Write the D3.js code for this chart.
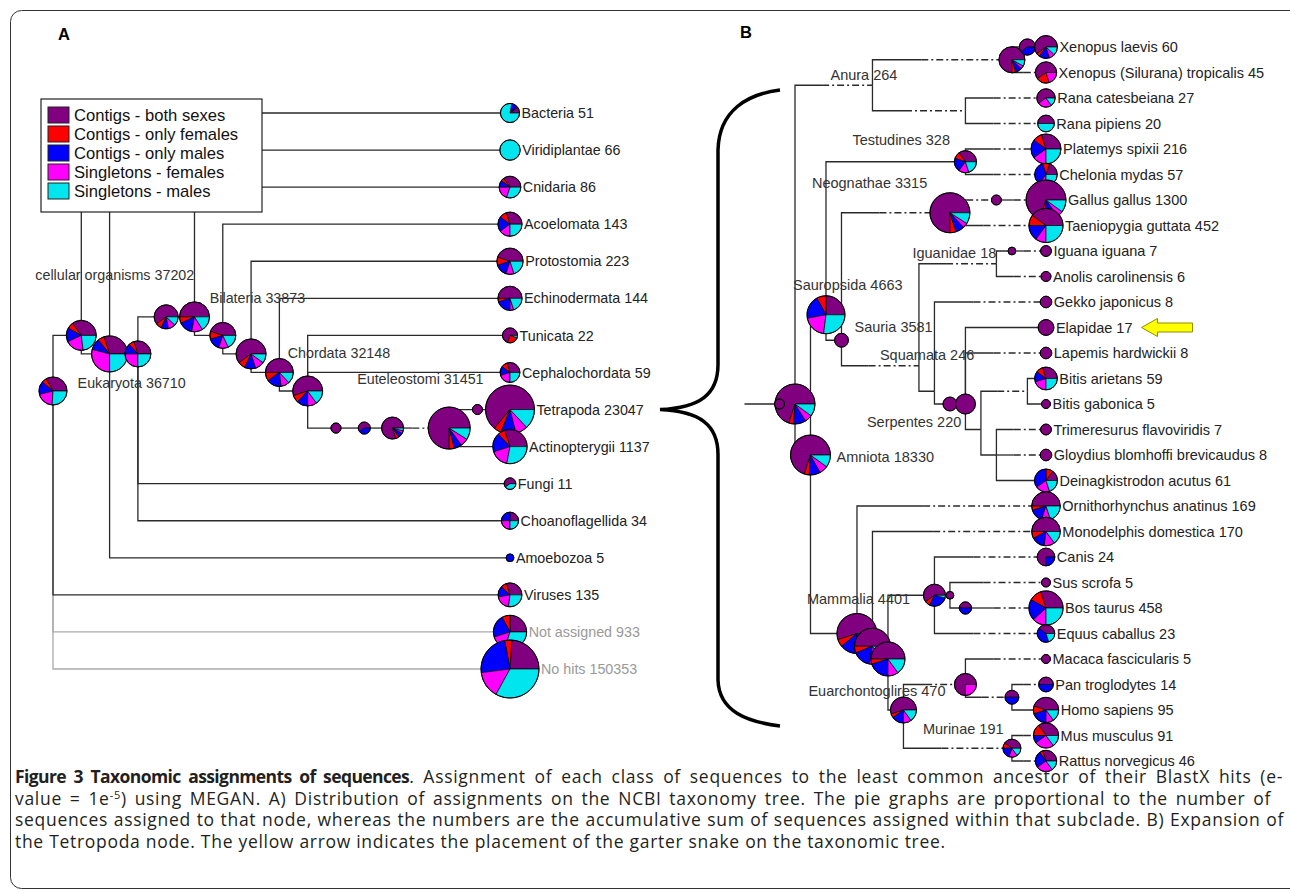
<!DOCTYPE html>
<html>
<head>
<meta charset="utf-8">
<script src="https://cdn.jsdelivr.net/npm/d3@7"></script>
<style>
  body { margin: 0; background: #fff; }
  svg text { font-family: "Liberation Sans", Arial, sans-serif; }
  .caption text { font-family: "Open Sans", sans-serif; }
</style>
</head>
<body>
<svg id="fig" width="1290" height="893"></svg>
<script>
// read classes (legend order = slice order)
const classNames = ["Contigs - both sexes", "Contigs - only females", "Contigs - only males", "Singletons - females", "Singletons - males"];
const classColors = ["#800080", "#ff0000", "#0000ff", "#ff00ff", "#00e5ee"];

// rows: [taxon, parent, rank column (null = leaf), count shown, reads in pie (null = count), class mix, hidden ranks on edge]
const taxaA = [
  ["root", null, 0, null, 315, [.33, .06, .15, .2, .26], 0],
  ["cellular organisms", "root", 1, 37202, 475, [.35, .07, .15, .2, .23], 0],
  ["Bacteria", "cellular organisms", null, 51, null, [.1, .02, .1, 0, .78], 0],
  ["Eukaryota", "cellular organisms", 2, 36710, 1640, [.3, .06, .1, .29, .25], 0],
  ["Viridiplantae", "Eukaryota", null, 66, null, [0, 0, 0, 0, 1], 0],
  ["Opisthokonta", "Eukaryota", 3, null, 210, [.3, .07, .13, .25, .25], 0],
  ["Metazoa", "Opisthokonta", 4, null, 140, [.6, .08, .1, .1, .12], 0],
  ["Eumetazoa", "Metazoa", 5, null, 475, [.5, .07, .15, .12, .16], 0],
  ["Cnidaria", "Eumetazoa", null, 86, null, [.35, .05, .1, .2, .3], 0],
  ["Bilateria", "Eumetazoa", 6, 33873, 210, [.45, .1, .15, .12, .18], 0],
  ["Acoelomata", "Bilateria", null, 143, null, [.3, .1, .2, .15, .25], 0],
  ["Coelomata", "Bilateria", 7, null, 475, [.6, .08, .12, .1, .1], 0],
  ["Protostomia", "Coelomata", null, 223, null, [.45, .1, .15, .1, .2], 0],
  ["Deuterostomia", "Coelomata", 8, null, 315, [.5, .1, .17, .1, .13], 0],
  ["Echinodermata", "Deuterostomia", null, 144, null, [.5, .05, .2, .05, .2], 0],
  ["Chordata", "Deuterostomia", 9, 32148, 475, [.55, .08, .12, .1, .15], 0],
  ["Tunicata", "Chordata", null, 22, null, [.7, .25, 0, 0, .05], 0],
  ["Cephalochordata", "Chordata", null, 59, null, [.3, .1, .15, .2, .25], 0],
  ["Craniata", "Chordata", 10, null, 8, [1, 0, 0, 0, 0], 0],
  ["Vertebrata", "Craniata", 11, null, 12, [.6, 0, .4, 0, 0], 0],
  ["Gnathostomata", "Vertebrata", 12, null, 92, [.8, .05, .07, .04, .04], 0],
  ["Euteleostomi", "Gnathostomata", 14, 31451, 5600, [.75, .04, .06, .06, .09], 1],
  ["Sarcopterygii", "Euteleostomi", 15, null, 8, [1, 0, 0, 0, 0], 0],
  ["Tetrapoda", "Sarcopterygii", null, 23047, null, [.64, .05, .1, .08, .13], 0],
  ["Actinopterygii", "Euteleostomi", null, 1137, null, [.3, .07, .18, .17, .28], 0],
  ["Fungi", "Opisthokonta", null, 11, null, [.6, 0, 0, 0, .4], 0],
  ["Choanoflagellida", "Opisthokonta", null, 34, null, [.25, 0, .25, .25, .25], 0],
  ["Amoebozoa", "Eukaryota", null, 5, null, [0, 0, 1, 0, 0], 0],
  ["Viruses", "root", null, 135, null, [.3, .08, .15, .2, .27], 0],
  ["Not assigned", "root", null, 933, null, [.25, .08, .22, .15, .3], 0],
  ["No hits", "root", null, 150353, null, [.24, .04, .24, .15, .33], 0]
];
const greyTaxa = ["Not assigned", "No hits"];

const purple = [1, 0, 0, 0, 0];
const taxaB = [
  ["Sarcopterygii", null, -1, null, 6, purple, 0],
  ["Tetrapoda", "Sarcopterygii", 0, null, 3800, [.7, .04, .1, .06, .1], 0],
  ["Anura", "Tetrapoda", 5, 264, 0, null, 1],
  ["Xenopus", "Anura", 14, null, 106, [.75, .05, .08, .04, .08], 1],
  ["Xenopus (Xenopus)", "Xenopus", 15, null, 18, [.6, 0, .4, 0, 0], 0],
  ["Xenopus laevis", "Xenopus (Xenopus)", null, 60, null, [.6, .05, .15, .08, .12], 0],
  ["Xenopus (Silurana) tropicalis", "Xenopus", null, 45, null, [.6, .2, 0, .2, 0], 1],
  ["Rana", "Anura", 11, null, 0, null, 1],
  ["Rana catesbeiana", "Rana", null, 27, null, [.6, 0, 0, .25, .15], 1],
  ["Rana pipiens", "Rana", null, 20, null, [.5, 0, 0, 0, .5], 1],
  ["Amniota", "Tetrapoda", 1, 18330, 11200, [.7, .04, .09, .07, .1], 0],
  ["Sauropsida", "Amniota", 2, 4663, 907, [.25, .08, .2, .2, .27], 0],
  ["Testudines", "Sauropsida", 11, 328, 52, [.35, .1, .2, .15, .2], 0],
  ["Platemys spixii", "Testudines", null, 216, null, [.3, .1, .2, .15, .25], 1],
  ["Chelonia mydas", "Testudines", null, 57, null, [.2, .1, .35, .1, .25], 1],
  ["Sauria", "Sauropsida", 3, 3581, 12, purple, 0],
  ["Neognathae", "Sauria", 10, 3315, 1563, [.75, .05, .07, .04, .09], 1],
  ["Galliformes", "Neognathae", 13, null, 6, purple, 1],
  ["Gallus gallus", "Galliformes", null, 1300, null, [.7, .05, .1, .05, .1], 1],
  ["Taeniopygia guttata", "Neognathae", null, 452, null, [.4, .1, .15, .1, .25], 1],
  ["Squamata", "Sauria", 8, 246, 0, null, 1],
  ["Iguanidae", "Squamata", 13, 18, 0, null, 1],
  ["Iguana", "Iguanidae", 14, null, 4, purple, 0],
  ["Iguana iguana", "Iguana", null, 7, null, purple, 1],
  ["Anolis carolinensis", "Iguanidae", null, 6, null, purple, 1],
  ["Scleroglossa", "Squamata", 9, null, 0, null, 0],
  ["Gekko japonicus", "Scleroglossa", null, 8, null, purple, 1],
  ["Serpentes", "Scleroglossa", 10, 220, 12, purple, 0],
  ["Colubroidea", "Serpentes", 11, null, 36, purple, 0],
  ["Elapidae", "Colubroidea", null, 17, null, purple, 0],
  ["Lapemis hardwickii", "Colubroidea", null, 8, null, purple, 1],
  ["Viperidae", "Colubroidea", 12, null, 0, null, 0],
  ["Bitis", "Viperidae", 15, null, 0, null, 1],
  ["Bitis arietans", "Bitis", null, 59, null, [.3, .1, .15, .2, .25], 0],
  ["Bitis gabonica", "Bitis", null, 5, null, purple, 0],
  ["Crotalinae", "Viperidae", 13, null, 0, null, 0],
  ["Trimeresurus flavoviridis", "Crotalinae", null, 7, null, purple, 1],
  ["Gloydius blomhoffi brevicaudus", "Crotalinae", null, 8, null, purple, 1],
  ["Deinagkistrodon acutus", "Crotalinae", null, 61, null, [.15, .1, .35, .2, .2], 0],
  ["Mammalia", "Amniota", 4, 4401, 1300, [.55, .06, .15, .1, .14], 0],
  ["Ornithorhynchus anatinus", "Mammalia", null, 169, null, [.5, .05, .15, .1, .2], 1],
  ["Theria", "Mammalia", 5, null, 635, [.5, .06, .16, .12, .16], 0],
  ["Monodelphis domestica", "Theria", null, 170, null, [.5, .08, .15, .12, .15], 1],
  ["Eutheria", "Theria", 6, null, 443, [.5, .05, .2, .1, .15], 0],
  ["Laurasiatheria", "Eutheria", 9, null, 52, [.6, .08, .28, 0, .04], 0],
  ["Canis", "Laurasiatheria", null, 24, null, [.75, 0, .25, 0, 0], 1],
  ["Cetartiodactyla", "Laurasiatheria", 10, null, 4, purple, 0],
  ["Sus scrofa", "Cetartiodactyla", null, 5, null, purple, 1],
  ["Bovidae", "Cetartiodactyla", 11, null, 9, [.5, 0, .5, 0, 0], 0],
  ["Bos taurus", "Bovidae", null, 458, null, [.3, .12, .2, .13, .25], 1],
  ["Equus caballus", "Laurasiatheria", null, 23, null, [.4, 0, .4, 0, .2], 1],
  ["Euarchontoglires", "Eutheria", 7, 470, 106, [.55, .05, .15, .1, .15], 0],
  ["Primates", "Euarchontoglires", 11, null, 52, [.75, 0, 0, .25, 0], 1],
  ["Macaca fascicularis", "Primates", null, 5, null, purple, 1],
  ["Hominidae", "Primates", 14, null, 12, [.5, 0, .5, 0, 0], 1],
  ["Pan troglodytes", "Hominidae", null, 14, null, [.5, 0, .5, 0, 0], 1],
  ["Homo sapiens", "Hominidae", null, 95, null, [.45, .1, .2, .1, .15], 0],
  ["Murinae", "Euarchontoglires", 14, 191, 25, [.4, .1, .2, .15, .15], 1],
  ["Mus musculus", "Murinae", null, 91, null, [.35, .15, .1, .25, .15], 1],
  ["Rattus norvegicus", "Murinae", null, 46, null, [.3, .05, .25, .25, .15], 1]
];

// where the internal node labels sit, relative to the node
const labelShiftA = {
  "cellular organisms": [-46, -55], "Eukaryota": [-32, 34], "Bilateria": [-13, -32],
  "Chordata": [-20, -33], "Euteleostomi": [-92, -44]
};
const labelShiftB = {
  "Anura": [-42, -5], "Testudines": [-113, -17], "Neognathae": [-138, -25], "Iguanidae": [-84, -6],
  "Sauropsida": [-33, -25], "Sauria": [13, -8], "Squamata": [-39, -6], "Serpentes": [-83, 23],
  "Amniota": [26, 7], "Mammalia": [-50, -30], "Euarchontoglires": [-95, -14], "Murinae": [-89, -14]
};

const svg = d3.select("#fig");

// outer frame
svg.append("rect")
  .attr("x", 10.5).attr("y", 10.5).attr("width", 1300).attr("height", 878).attr("rx", 11)
  .attr("fill", "none").attr("stroke", "#333").attr("stroke-width", 1);

const pie = d3.pie().sort(null).startAngle(Math.PI / 2).endAngle(Math.PI / 2 - 2 * Math.PI);

function drawTree(g, rows, x, y, r, o) {
  const data = rows.map(([name, parent, rank, count, reads, mix, hidden]) =>
    ({name, parent, rank, count, reads: reads === null ? count : reads, mix, hidden}));
  const root = d3.stratify().id(d => d.name).parentId(d => d.parent)(data);
  const leafRank = x.domain()[1];
  root.leaves().forEach((d, i) => d.row = i);
  root.eachAfter(d => {
    if (d.children) { const l = d.leaves(); d.row = (l[0].row + l[l.length - 1].row) / 2; }
  });
  const order = [];
  root.eachBefore(d => {
    d.px = x(d.children ? d.data.rank : leafRank);
    d.py = y(d.row);
    order.push(d);
  });

  const isGrey = d => greyTaxa.includes(d.data.name);
  const links = root.descendants().filter(d => d.parent).sort((a, b) => isGrey(b) - isGrey(a));
  const edges = g.append("g").attr("fill", "none").attr("stroke-width", 1.3);
  for (const d of links) {
    const p = d.parent, col = isGrey(d) ? "#aaa" : "#2a2a2a";
    const split = d.data.hidden ? p.px + (d.px - p.px) * 0.35 : d.px;
    edges.append("path").attr("stroke", col)
      .attr("d", `M${p.px},${p.py}V${d.py}H${split}`);
    if (d.data.hidden) {
      edges.append("path").attr("stroke", col).attr("stroke-dasharray", "7,3,2,3")
        .attr("d", `M${split},${d.py}H${d.px}`);
    }
  }
  if (o.stub) {
    edges.append("path").attr("stroke", "#2a2a2a").attr("d", `M${root.px - o.stub},${root.py}H${root.px}`);
  }

  // pies, parents before children, top node last
  const drawn = order.slice(1).concat([root]).filter(d => d.data.reads > 0 && d.data.mix);
  const pies = g.append("g");
  for (const d of drawn) {
    const rr = r(d.data.reads);
    d.rr = rr;
    const arc = d3.arc().innerRadius(0).outerRadius(rr);
    const pg = pies.append("g").attr("transform", `translate(${d.px},${d.py})`);
    pg.selectAll("path")
      .data(pie(d.data.mix).map((a, i) => ({...a, i})).filter(a => a.value > 0))
      .join("path")
        .attr("d", arc)
        .attr("fill", a => classColors[a.i])
        .attr("stroke", "#000").attr("stroke-width", 0.7);
    pg.append("circle").attr("r", rr).attr("fill", "none").attr("stroke", "#000").attr("stroke-width", 1);
  }

  const labels = g.append("g").attr("font-size", o.fontSize);
  for (const d of root.leaves()) {
    labels.append("text")
      .attr("class", "leaf")
      .datum(d)
      .attr("x", d.px + (d.rr || 0) + 2)
      .attr("y", d.py)
      .attr("dy", "0.36em")
      .attr("fill", isGrey(d) ? "#999" : "#222")
      .text(`${d.data.name} ${d.data.count}`);
  }
  for (const d of root.descendants()) {
    const s = o.shift[d.data.name];
    if (!d.children || !s || d.data.count === null) continue;
    labels.append("text")
      .attr("x", d.px + s[0]).attr("y", d.py + s[1])
      .attr("fill", "#333")
      .text(`${d.data.name} ${d.data.count}`);
  }
  return root;
}

// panel A
const gA = svg.append("g");
const xA = d3.scaleLinear().domain([0, 16.15]).range([53, 510]);
const yA = d3.scaleLinear().domain([0, 15]).range([113, 669]);
const rA = d3.scaleLog().domain([1, 150353]).range([0, 29]).clamp(true);
const rootA = drawTree(gA, taxaA, xA, yA, rA, {fontSize: 14.3, shift: labelShiftA});

// panel B
const gB = svg.append("g");
const xB = d3.scaleLinear().domain([0, 16.2]).range([795, 1046]);
const yB = d3.scaleLinear().domain([0, 28]).range([47, 761]);
const rB = d3.scaleLog().domain([1, 1300]).range([0, 20]).clamp(true);
const rootB = drawTree(gB, taxaB, xB, yB, rB, {fontSize: 14.5, shift: labelShiftB, stub: 35});

// legend
const leg = svg.append("g").attr("transform", "translate(41,99)");
leg.append("rect").attr("width", 221).attr("height", 113).attr("fill", "#fff").attr("stroke", "#222").attr("stroke-width", 1.2);
classNames.forEach((c, i) => {
  leg.append("rect").attr("x", 7).attr("y", 8 + i * 19).attr("width", 21).attr("height", 16)
    .attr("fill", classColors[i]).attr("stroke", "#222").attr("stroke-width", 1);
  leg.append("text").attr("x", 33).attr("y", 22 + i * 19).attr("font-size", 16.6).attr("fill", "#111").text(c);
});

// panel letters
svg.append("text").attr("x", 58).attr("y", 40).attr("font-size", 16.5).attr("font-weight", "bold").text("A");
svg.append("text").attr("x", 740).attr("y", 38).attr("font-size", 16.5).attr("font-weight", "bold").text("B");

// brace from Tetrapoda (A) to panel B
const tetra = rootA.leaves().find(d => d.data.name === "Tetrapoda");
const ty = tetra.py;
svg.append("path")
  .attr("fill", "none").attr("stroke", "#000").attr("stroke-width", 3.5)
  .attr("d", `M780,90 C748,94 719,110 718,150 L718,${ty - 45} C718,${ty - 15} 700,${ty - 2} 660,${ty}
              C700,${ty + 2} 718,${ty + 15} 718,${ty + 45} L718,680 C719,712 748,722 780,726`);

// yellow arrow after Elapidae
const elap = gB.selectAll("text.leaf").filter(d => d.data.name === "Elapidae");
const ex = +elap.attr("x") + elap.node().getComputedTextLength() + 9, ey = +elap.attr("y");
svg.append("path")
  .attr("fill", "#ffff00").attr("stroke", "#8c8c00").attr("stroke-width", 1)
  .attr("d", `M${ex},${ey} L${ex + 16},${ey - 9} L${ex + 16},${ey - 4.5} L${ex + 51},${ey - 4.5}
              L${ex + 51},${ey + 4.5} L${ex + 16},${ey + 4.5} L${ex + 16},${ey + 9} Z`);

// caption
const cap = svg.append("g").attr("class", "caption").attr("font-size", 17.5).attr("fill", "#231f20");
const capLines = [
  [["b", "Figure 3 Taxonomic assignments of sequences"], ["", ". Assignment of each class of sequences to the least common ancestor of their BlastX hits (e-"]],
  [["", "value = 1e"], ["sup", "-5"], ["", ") using MEGAN. A) Distribution of assignments on the NCBI taxonomy tree. The pie graphs are proportional to the number of"]],
  [["", "sequences assigned to that node, whereas the numbers are the accumulative sum of sequences assigned within that subclade. B) Expansion of"]],
  [["", "the Tetropoda node. The yellow arrow indicates the placement of the garter snake on the taxonomic tree."]]
];
const capWidth = [1268, 1256, 1269, null];
capLines.forEach((parts, i) => {
  const t = cap.append("text").attr("x", 15).attr("y", 783 + i * 21.5);
  parts.forEach(([k, s]) => {
    const ts = t.append("tspan").text(s);
    if (k === "b") ts.attr("font-weight", "bold").attr("letter-spacing", -0.6);
    else ts.attr("letter-spacing", 0.7);
    if (k === "sup") ts.attr("font-size", 11).attr("dy", -6);
    if (k === "" && parts.some(p => p[0] === "sup") && s.startsWith(")")) ts.attr("dy", 6);
  });
  if (capWidth[i]) {
    const natural = t.node().getComputedTextLength();
    const spaces = parts.map(p => p[1]).join("").split(" ").length - 1;
    t.style("word-spacing", `${Math.max(0, capWidth[i] - natural) / spaces}px`);
  }
});
</script>
</body>
</html>
